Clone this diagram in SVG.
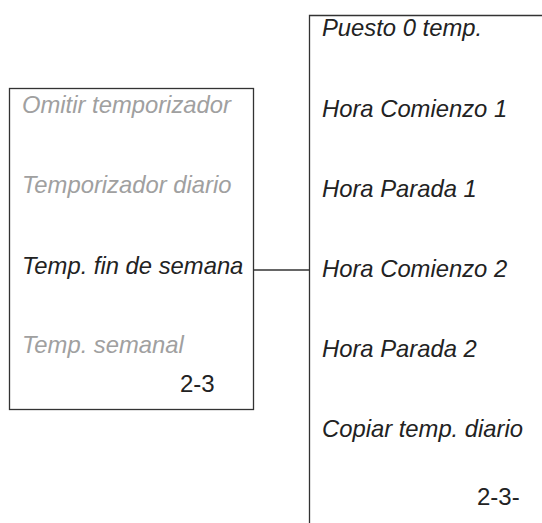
<svg xmlns="http://www.w3.org/2000/svg" width="542" height="523" viewBox="0 0 542 523">
<style>
.t{font-family:"Liberation Sans",Arial,sans-serif;font-size:23.8px;font-style:italic;fill:#222}
.g{fill:#a0a0a0}
.n{font-family:"Liberation Sans",Arial,sans-serif;font-size:24px;fill:#222}
.b{fill:none;stroke:#333;stroke-width:1.3}
</style>
<rect width="542" height="523" fill="#fff"/>
<g id="menu-temporizador">
<rect class="b" x="9.5" y="88.5" width="244" height="321"/>
<text class="t g" x="22" y="113">Omitir temporizador</text>
<text class="t g" x="22" y="193">Temporizador diario</text>
<text class="t" x="22" y="274">Temp. fin de semana</text>
<text class="t g" x="22" y="353">Temp. semanal</text>
<text class="n" x="180" y="392">2-3</text>
</g>
<g id="menu-fin-de-semana">
<path class="b" d="M542 15.5H309.5V523"/>
<text class="t" x="322" y="36">Puesto 0 temp.</text>
<text class="t" x="322" y="117">Hora Comienzo 1</text>
<text class="t" x="322" y="197">Hora Parada 1</text>
<text class="t" x="322" y="277">Hora Comienzo 2</text>
<text class="t" x="322" y="357">Hora Parada 2</text>
<text class="t" x="322" y="437">Copiar temp. diario</text>
<text class="n" x="477" y="505">2-3-</text>
</g>
<g id="connectors">
<line class="b" x1="253.5" y1="270" x2="309.5" y2="270"/>
</g>
</svg>
